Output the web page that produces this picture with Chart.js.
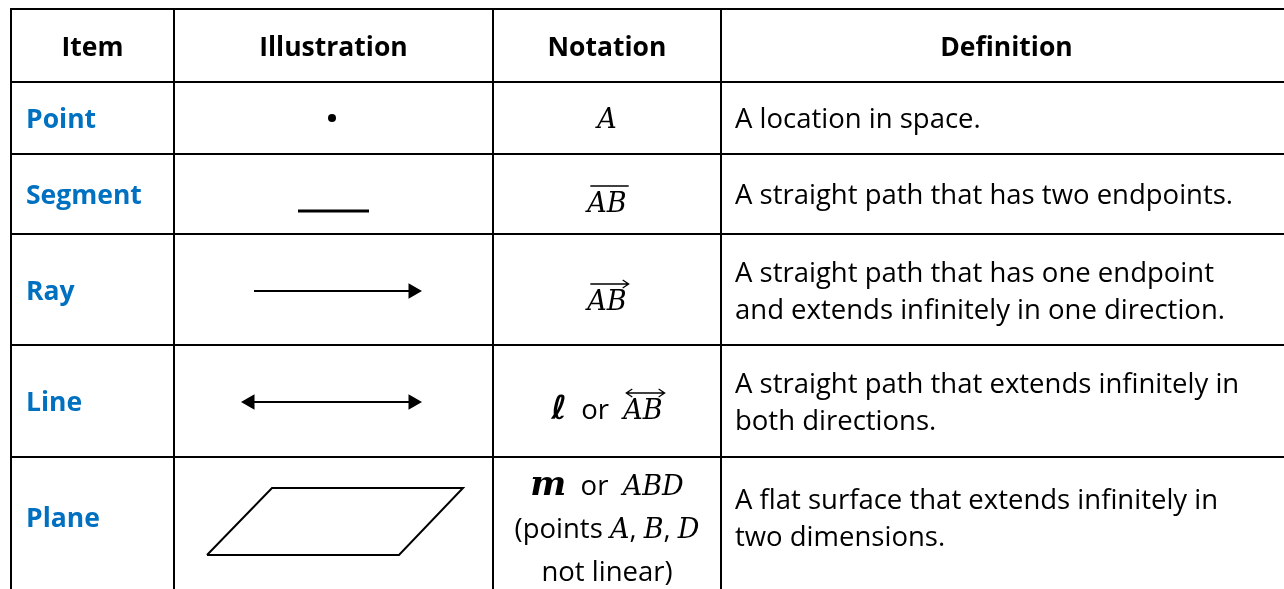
<!DOCTYPE html>
<html>
<head>
<meta charset="utf-8">
<script src="https://cdn.jsdelivr.net/npm/chart.js@4.4.1/dist/chart.umd.min.js"></script>
<style>
  html, body { margin: 0; padding: 0; background: #fff; }
  canvas { display: block; }
</style>
</head>
<body>
<canvas id="myChart" width="1284" height="589"></canvas>
<script>
// table grid (in table units)
const colEdges = [11, 174, 493, 721, 1292];
const rowEdges = [9, 82, 154, 234, 345, 457, 612];
const rowCenters = [45.5, 118, 194, 290, 401, 517];

const headers = ['Item', 'Illustration', 'Notation', 'Definition'];
const items = ['Point', 'Segment', 'Ray', 'Line', 'Plane'];
const definitions = [
    ['A location in space.'],
    ['A straight path that has two endpoints.'],
    ['A straight path that has one endpoint', 'and extends infinitely in one direction.'],
    ['A straight path that extends infinitely in', 'both directions.'],
    ['A flat surface that extends infinitely in', 'two dimensions.']
];
// notation: one list of runs per text line (f: r = text, m = math, mb = bold math, ml = script l; d = decoration)
const notations = [
    [[{t: 'A', f: 'm'}]],
    [[{t: 'AB', f: 'm', d: 'bar'}]],
    [[{t: 'AB', f: 'm', d: 'ray'}]],
    [[{t: 'ℓ', f: 'ml'}, {t: '  or  ', f: 'r'}, {t: 'AB', f: 'm', d: 'line'}]],
    [[{t: 'm', f: 'mb'}, {t: '  or  ', f: 'r'}, {t: 'ABD', f: 'm'}],
     [{t: '(points ', f: 'r'}, {t: 'A', f: 'm'}, {t: ', ', f: 'r'}, {t: 'B', f: 'm'}, {t: ', ', f: 'r'}, {t: 'D', f: 'm'}],
     [{t: 'not linear)', f: 'r'}]]
];

// illustration shapes
const pointMark = [{x: 332, y: 118}];
const segmentMark = [{x: 298, y: 211}, {x: 369, y: 211}];
const rayMark = [{x: 254, y: 291}, {x: 413, y: 291}];
const lineMark = [{x: 250, y: 402}, {x: 413, y: 402}];
const planeMark = [{x: 207, y: 555}, {x: 272, y: 488}, {x: 463, y: 488}, {x: 399, y: 555}, {x: 207, y: 555}];

const notationShift = [0, 8, 10, 8, 11];
const notationGap = [37, 37, 37, 37, 43];

const FONT_R = '27.5px "Open Sans"';
const FONT_B = 'bold 26.5px "Open Sans"';
const FONT_M = 'italic 27px "DejaVu Serif"';
const FONT_MB = 'bold italic 34px "DejaVu Serif"';
const FONT_ML = 'bold italic 33px "DejaVu Sans"';
const BLUE = '#0070C0';

const ctx = document.getElementById('myChart').getContext('2d');

let datasets = [];
colEdges.forEach(function (e) {
    datasets.push({data: [{x: e, y: rowEdges[0]}, {x: e, y: rowEdges[rowEdges.length - 1]}]});
});
rowEdges.forEach(function (e) {
    datasets.push({data: [{x: colEdges[0], y: e}, {x: colEdges[colEdges.length - 1], y: e}]});
});
datasets = datasets.map(function (d) {
    return Object.assign(d, {showLine: true, borderColor: '#000', borderWidth: 2, pointRadius: 0, borderCapStyle: 'square'});
});

datasets.push({data: pointMark, pointRadius: 4, backgroundColor: '#000', borderWidth: 0});
datasets.push({data: segmentMark, showLine: true, borderColor: '#000', borderWidth: 3, pointRadius: 0});
datasets.push({
    data: rayMark, showLine: true, borderColor: '#000', backgroundColor: '#000', borderWidth: 2,
    pointStyle: 'triangle', pointRadius: [0, 9], pointRotation: [0, 90], pointBorderWidth: 0
});
datasets.push({
    data: lineMark, showLine: true, borderColor: '#000', backgroundColor: '#000', borderWidth: 2,
    pointStyle: 'triangle', pointRadius: [9, 9], pointRotation: [-90, 90], pointBorderWidth: 0
});
datasets.push({data: planeMark, showLine: true, borderColor: '#000', borderWidth: 2, pointRadius: 0, borderJoinStyle: 'miter'});

function drawDeco(c, kind, x0, x1, y) {
    c.save();
    c.strokeStyle = '#000';
    c.lineWidth = 1.3;
    c.beginPath();
    c.moveTo(x0, y);
    c.lineTo(x1, y);
    if (kind === 'ray' || kind === 'line') {
        c.moveTo(x1 - 6, y - 4);
        c.lineTo(x1, y);
        c.lineTo(x1 - 6, y + 4);
    }
    if (kind === 'line') {
        c.moveTo(x0 + 6, y - 4);
        c.lineTo(x0, y);
        c.lineTo(x0 + 6, y + 4);
    }
    c.stroke();
    c.restore();
}

function drawRuns(c, runs, cx, base) {
    const fonts = {r: FONT_R, m: FONT_M, mb: FONT_MB, ml: FONT_ML};
    const widths = runs.map(function (r) {
        c.font = fonts[r.f];
        return c.measureText(r.t).width;
    });
    const total = widths.reduce(function (a, b) { return a + b; }, 0);
    let x = cx - total / 2;
    runs.forEach(function (r, i) {
        c.font = fonts[r.f];
        c.fillText(r.t, x, base);
        if (r.d) drawDeco(c, r.d, x + 3, x + widths[i] + 2, base - 26);
        x += widths[i];
    });
}

const tableText = {
    id: 'tableText',
    beforeDraw(chart) {
        const c = chart.ctx;
        c.save();
        c.fillStyle = '#fff';
        c.fillRect(0, 0, chart.width, chart.height);
        c.restore();
    },
    afterDatasetsDraw(chart) {
        const c = chart.ctx;
        const xs = chart.scales.x, ys = chart.scales.y;
        const colMid = function (i) { return xs.getPixelForValue((colEdges[i] + colEdges[i + 1]) / 2); };
        c.save();
        c.textBaseline = 'alphabetic';
        c.fillStyle = '#000';

        // header
        c.font = FONT_B;
        c.textAlign = 'center';
        headers.forEach(function (h, i) {
            c.fillText(h, colMid(i), ys.getPixelForValue(rowCenters[0]) + 10);
        });

        // item names
        c.textAlign = 'left';
        c.fillStyle = BLUE;
        items.forEach(function (t, i) {
            c.fillText(t, xs.getPixelForValue(colEdges[0] + 15), ys.getPixelForValue(rowCenters[i + 1]) + 10);
        });

        // definitions
        c.fillStyle = '#000';
        c.font = FONT_R;
        definitions.forEach(function (lines, i) {
            const y0 = ys.getPixelForValue(rowCenters[i + 1]) + 10 - (lines.length - 1) * 37 / 2;
            lines.forEach(function (l, j) {
                c.fillText(l, xs.getPixelForValue(colEdges[3] + 14), y0 + j * 37);
            });
        });

        // notation
        notations.forEach(function (lines, i) {
            const gap = notationGap[i];
            const y0 = ys.getPixelForValue(rowCenters[i + 1]) + 10 + notationShift[i] - (lines.length - 1) * gap / 2;
            lines.forEach(function (runs, j) {
                drawRuns(c, runs, colMid(2), y0 + j * gap);
            });
        });
        c.restore();
    }
};

const lineChart = new Chart(ctx, {
    type: 'scatter',
    data: {datasets: datasets},
    options: {
        responsive: false,
        animation: false,
        events: [],
        layout: {padding: 0, autoPadding: false},
        plugins: {legend: {display: false}, tooltip: {enabled: false}},
        scales: {
            x: {type: 'linear', min: 0, max: 1284, display: false},
            y: {type: 'linear', min: 0, max: 589, reverse: true, display: false}
        }
    },
    plugins: [tableText]
});
</script>
</body>
</html>
